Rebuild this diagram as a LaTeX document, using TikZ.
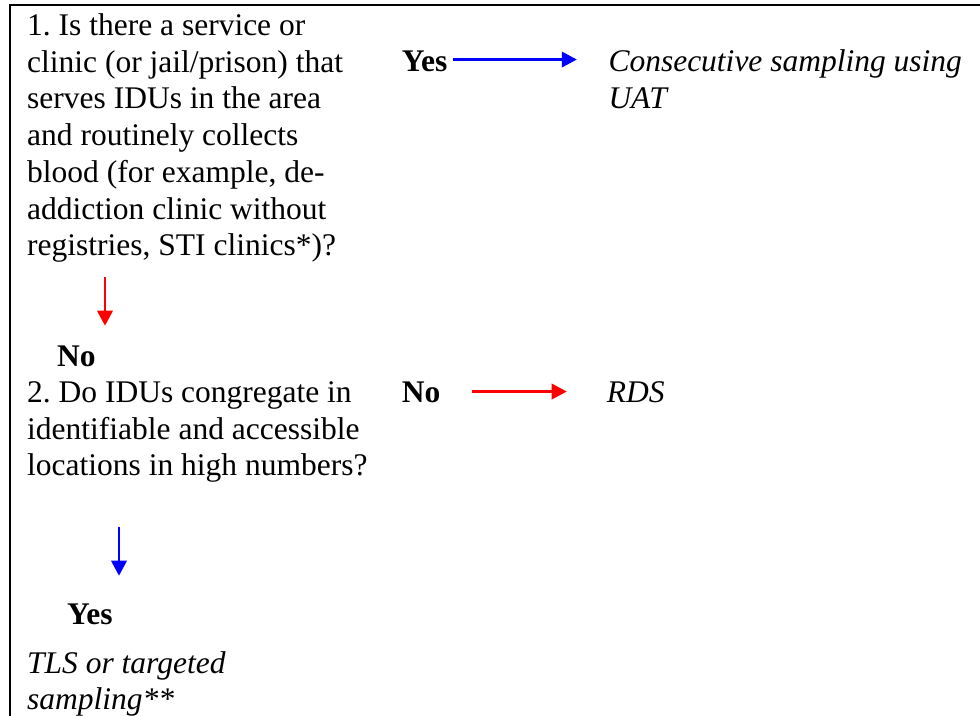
\documentclass[tikz,border=0pt]{standalone}
\usepackage{fontspec}
\setmainfont{Liberation Serif}
\usetikzlibrary{arrows.meta}
\frenchspacing
\begin{document}
\begin{tikzpicture}[x=1pt,y=-1pt,
  txt/.style={anchor=base west, inner sep=0pt, font=\fontsize{31.5}{36.7}\selectfont},
  lbl/.style={txt, font=\fontsize{31.5}{36.7}\selectfont\bfseries},
  res/.style={txt, font=\fontsize{31.5}{36.7}\selectfont\itshape},
  arr/.style={line width=2.2pt, -{Triangle[length=15pt,width=15.5pt]}},
  yesarr/.style={arr, draw=blue, fill=blue},
  noarr/.style={arr, draw=red, fill=red},
  frame/.style={line width=2pt}]
\useasboundingbox (0,0) rectangle (980,715);

% frame (top and left edges)
\draw[frame] (9.5,716) -- (9.5,5) -- (981,5);

% question 1
\node[txt] (q1) at (27,35.5) {\parbox[t]{420pt}{1. Is there a service or\\
clinic (or jail/prison) that\\
serves IDUs in the area\\
and routinely collects\\
blood (for example, de-\\
addiction clinic without\\
registries, STI clinics*)?}};
\node[lbl] (yes1) at (401.7,71.7) {Yes};
\node[res] (cons) at (608.3,71.7) {\parbox[t]{420pt}{Consecutive sampling using\\UAT}};
\draw[yesarr, shorten <=5pt, shorten >=31.5pt] (yes1.east) ++(0,-2) coordinate (ya) -- (ya -| cons.west);

% branch "No" from question 1
\node[lbl] (no1) at (57,366) {No};
\coordinate (d1) at (105,277);
\draw[noarr, shorten >=19.5pt] (d1) -- (d1 |- no1.north);

% question 2
\node[txt] (q2) at (27,402.5) {\parbox[t]{420pt}{2. Do IDUs congregate in\\
identifiable and accessible\\
locations in high numbers?}};
\node[lbl] (no2) at (401.7,402.7) {No};
\node[res] (rds) at (606.7,402.7) {RDS};
\draw[noarr, shorten <=31pt, shorten >=40pt] (no2.east) ++(0,-1) coordinate (na) -- (na -| rds.west);

% branch "Yes" from question 2
\node[lbl] (yes2) at (67,624) {Yes};
\coordinate (d2) at (119,527);
\draw[yesarr, shorten >=27.5pt] (d2) -- (d2 |- yes2.north);
\node[res] (tls) at (27,673) {\parbox[t]{420pt}{TLS or targeted\\sampling**}};
\end{tikzpicture}
\end{document}
